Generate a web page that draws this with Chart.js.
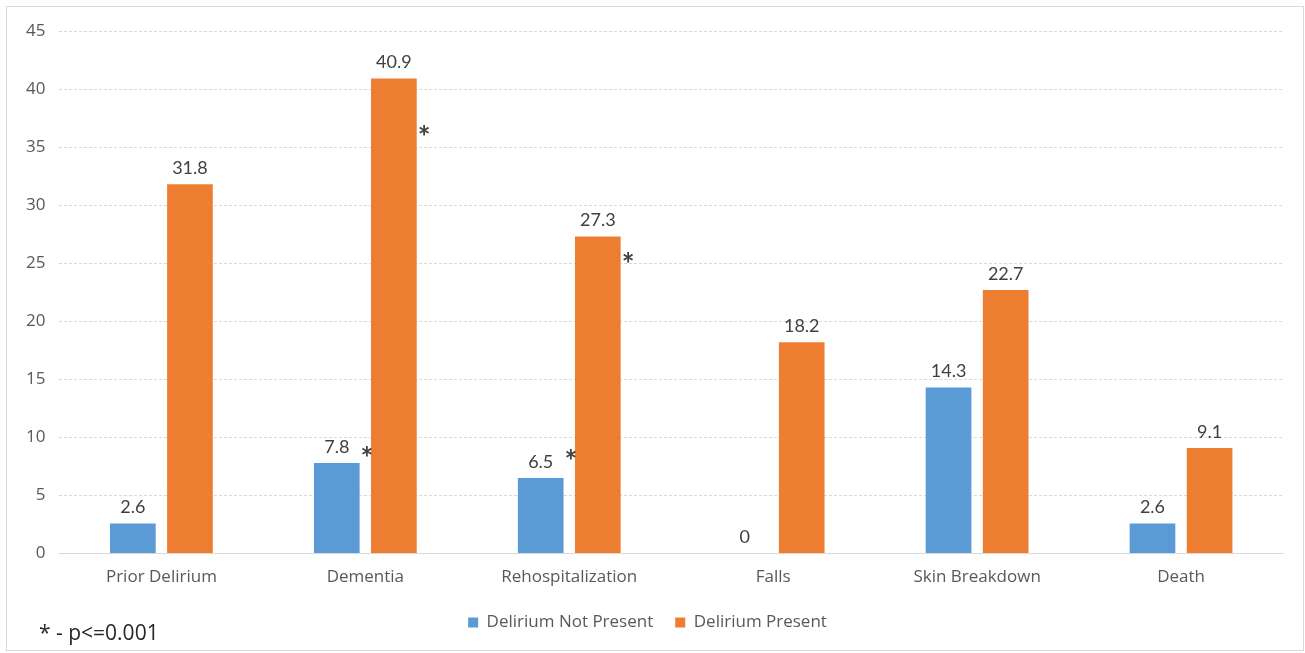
<!DOCTYPE html>
<html>
<head>
<meta charset="utf-8">
<script src="https://cdn.jsdelivr.net/npm/chart.js@4"></script>
<style>
  html, body { margin: 0; padding: 0; background: #fff; }
  #wrap { position: absolute; left: 0; top: 0; width: 1305px; height: 653px; }
</style>
</head>
<body>
<div id="wrap"><canvas id="chart"></canvas></div>
<script>
// values
const categories = ['Prior Delirium', 'Dementia', 'Rehospitalization', 'Falls', 'Skin Breakdown', 'Death'];
const notPresent = [2.6, 7.8, 6.5, 0, 14.3, 2.6];
const present = [31.8, 40.9, 27.3, 18.2, 22.7, 9.1];
// significance marks (p<=0.001)
const sigNotPresent = [false, true, true, false, false, false];
const sigPresent = [false, true, true, false, false, false];

const textColor = '#595959';
const fontFam = 'Lato, "Open Sans", sans-serif';
const axisFam = '"Open Sans", Lato, sans-serif';

// value labels above the bars
const valueLabels = {
  id: 'valueLabels',
  afterDatasetsDraw(chart) {
    const ctx = chart.ctx;
    ctx.save();
    ctx.font = '18px ' + fontFam;
    ctx.fillStyle = '#404040';
    ctx.textAlign = 'center';
    ctx.textBaseline = 'bottom';
    chart.data.datasets.forEach((ds, i) => {
      chart.getDatasetMeta(i).data.forEach((bar, j) => {
        ctx.fillText(String(ds.data[j]), bar.x, bar.y - 7);
      });
    });
    ctx.restore();
  }
};

// asterisks next to significant bars
const asterisks = {
  id: 'asterisks',
  afterDatasetsDraw(chart, args, opts) {
    const ctx = chart.ctx;
    ctx.save();
    ctx.font = 'bold 30px ' + fontFam;
    ctx.fillStyle = '#404040';
    ctx.textAlign = 'left';
    ctx.textBaseline = 'middle';
    chart.data.datasets.forEach((ds, i) => {
      const meta = chart.getDatasetMeta(i);
      ds.sig.forEach((s, j) => {
        if (!s) return;
        const bar = meta.data[j];
        const dy = opts.dy[i][j];
        ctx.fillText('*', bar.x + bar.width / 2 + 1, bar.y + dy + 7);
      });
    });
    ctx.restore();
  }
};

// footnote and frame
const frame = {
  id: 'frame',
  afterDraw(chart) {
    const ctx = chart.ctx;
    ctx.save();
    ctx.strokeStyle = '#d9d9d9';
    ctx.lineWidth = 1;
    ctx.strokeRect(6.5, 6.5, chart.width - 8, chart.height - 9);
    ctx.font = '21px ' + axisFam;
    ctx.fillStyle = '#262626';
    ctx.textBaseline = 'middle';
    ctx.fillText('* - p<=0.001', 39, 634);
    ctx.restore();
  }
};

new Chart(document.getElementById('chart'), {
  type: 'bar',
  data: {
    labels: categories,
    datasets: [
      { label: 'Delirium Not Present', data: notPresent, sig: sigNotPresent,
        backgroundColor: '#5B9BD5', categoryPercentage: 0.56, barPercentage: 0.8 },
      { label: 'Delirium Present', data: present, sig: sigPresent,
        backgroundColor: '#ED7D31', categoryPercentage: 0.56, barPercentage: 0.8 }
    ]
  },
  options: {
    responsive: true,
    maintainAspectRatio: false,
    animation: false,
    layout: { padding: { left: 12, right: 22, top: 31, bottom: 12 } },
    scales: {
      x: {
        grid: { display: false },
        border: { color: '#d9d9d9' },
        ticks: { color: textColor, font: { family: axisFam, size: 17 }, padding: 5 }
      },
      y: {
        min: 0, max: 45,
        ticks: { stepSize: 5, color: textColor, font: { family: axisFam, size: 17 }, padding: 14 },
        grid: { color: '#d9d9d9', drawTicks: false },
        border: { display: false, dash: [3, 2] }
      }
    },
    plugins: {
      legend: {
        position: 'bottom',
        labels: {
          color: textColor,
          font: { family: axisFam, size: 17 },
          boxWidth: 10, boxHeight: 10, padding: 22
        }
      },
      tooltip: { enabled: false },
      asterisks: { dy: [[0, -11, -23, 0, 0, 0], [0, 53, 22, 0, 0, 0]] }
    }
  },
  plugins: [valueLabels, asterisks, frame]
});
</script>
</body>
</html>
